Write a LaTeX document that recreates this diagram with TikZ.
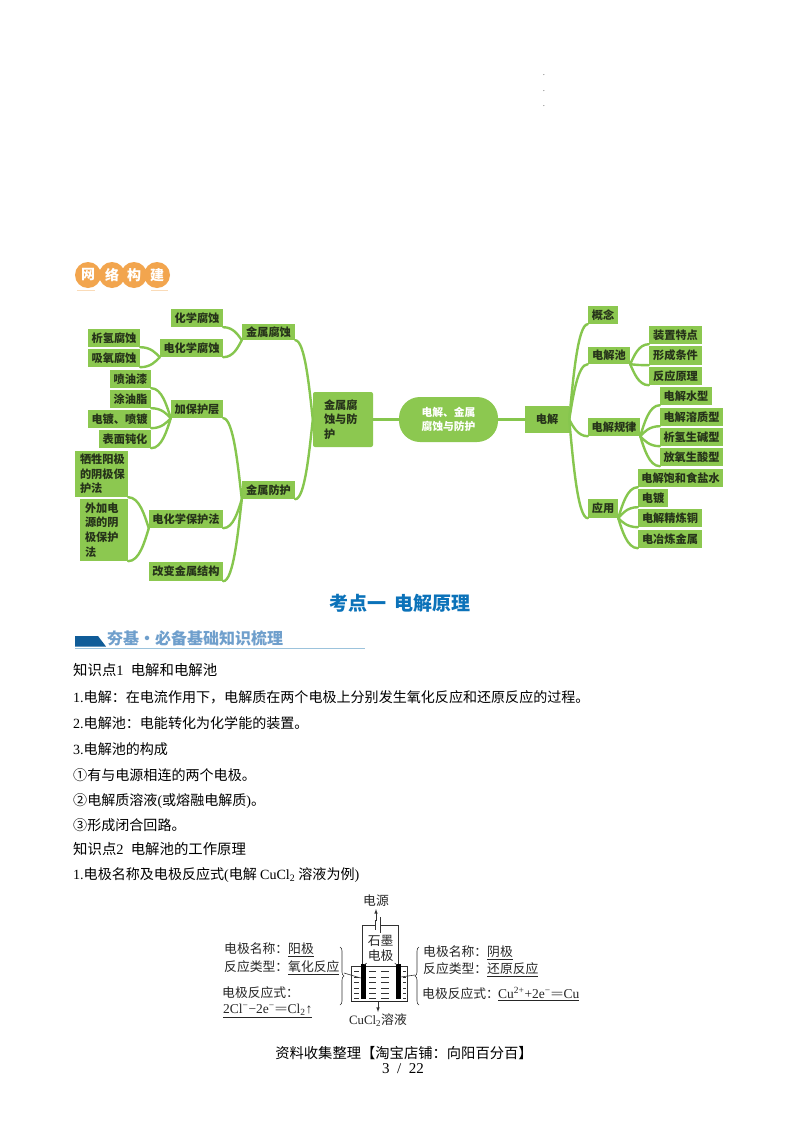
\documentclass[tikz,border=0pt]{standalone}
\usepackage{fontspec}
\setmainfont{Liberation Serif}
\newfontfamily\cjk{Noto Sans CJK SC}
\usetikzlibrary{calc,decorations.pathreplacing,shapes.geometric}
\definecolor{mmgreen}{HTML}{8CC850}
\definecolor{mmline}{HTML}{86C64E}
\definecolor{mmtext}{HTML}{26331A}
\definecolor{titleblue}{HTML}{0B72B9}
\definecolor{headblue}{HTML}{105C98}
\definecolor{headtext}{HTML}{6F9FCC}
\definecolor{headline}{HTML}{9CC3DC}
\definecolor{badge}{HTML}{F2A54E}
\newcommand{\fs}[1]{\fontsize{#1}{#1}\selectfont}
\newcommand{\lat}[1]{{\rmfamily #1}}
\newcommand{\dbl}{\raisebox{0pt}{\scalebox{1.7}[1]{\lat{=}}}}
\tikzset{
  mm/.style={fill=mmgreen,text=mmtext,inner sep=0pt,font=\cjk\bfseries\fontsize{11.2}{14.6}\selectfont},
  conn/.style={draw=mmline,line width=2.4pt,line cap=round},
  body/.style={anchor=west,inner sep=0pt,font=\cjk\fs{14.05},text=black},
  head/.style={anchor=west,inner sep=0pt,font=\cjk\fs{14.4},text=black},
  dia/.style={anchor=west,inner sep=0pt,font=\cjk\fs{12.8},text=black!85},
  wire/.style={draw=black!80,line width=0.6pt},
  electrode/.style={fill=black},
}
\newcommand{\mmn}[6]{\node[mm,minimum width=#4pt-#2pt,minimum height=#5pt-#3pt] (#1) at ({(#2+#4)/2},{(#3+#5)/2}) {#6};}
\newcommand{\mml}[7]{\node[mm,align=left,rounded corners=#7,minimum width=#4pt-#2pt,minimum height=#5pt-#3pt,text width=#4pt-#2pt-10pt] (#1) at ({(#2+#4)/2},{(#3+#5)/2}) {#6};}
% child -> parent: leaves the child along its bottom edge, arrives steeply at the parent
\newcommand{\lnk}[2]{\draw[conn] let \p1=(#1),\p2=(#2) in (\p1) .. controls ({0.45*\x1+0.55*\x2},\y1) and ({0.2*\x1+0.8*\x2},{0.4*\y1+0.6*\y2}) .. (\p2);}
\begin{document}
\begin{tikzpicture}[x=1pt,y=-1pt]
\useasboundingbox[fill=white] (0,0) rectangle (800,1132);

% top dots
\node[inner sep=0pt,font=\fs{7}] (dota) at (544,75) {.};
\node[inner sep=0pt,font=\fs{7}] (dotb) at (544,91) {.};
\node[inner sep=0pt,font=\fs{7}] (dotc) at (544,106) {.};

% badge
\foreach \n/\x/\t in {ba/88/网,bb/112/络,bc/134/构,bd/157/建}{
  \node[circle,fill=badge,minimum size=26pt,inner sep=0pt,text=white,font=\cjk\bfseries\fs{14}] (\n) at (\x,275) {\t};
}
\draw[badge!40,line width=1pt] (77,290.5) -- (95,290.5) (151,290.5) -- (168,290.5);

\mmn{a1}{171}{309}{223}{327}{化学腐蚀}
\mmn{a2}{242}{324}{295}{340}{金属腐蚀}
\mmn{a3}{88}{329}{140}{347}{析氢腐蚀}
\mmn{a4}{88}{349}{140}{367}{吸氧腐蚀}
\mmn{a5}{160}{339}{223}{357}{电化学腐蚀}
\mmn{b1}{110}{370}{151}{388}{喷油漆}
\mmn{b2}{110}{390}{151}{408}{涂油脂}
\mmn{b3}{88}{410}{151}{428}{电镀、喷镀}
\mmn{b4}{99}{430}{151}{448}{表面钝化}
\mmn{b5}{171}{400}{223}{418}{加保护层}
\mml{c1}{75}{451}{128}{497}{牺牲阳极\\的阴极保\\护法}{0pt}
\mml{c2}{80}{499}{128}{561}{外加电\\源的阴\\极保护\\法}{0pt}
\mmn{c3}{149}{510}{223}{528}{电化学保护法}
\mmn{c4}{242}{481}{295}{499}{金属防护}
\mmn{c5}{149}{562}{223}{581}{改变金属结构}
\node[mm,align=left,rounded corners=2pt,minimum width=60pt,minimum height=55pt,text width=38pt] (d1) at (343,419.5) {金属腐\\蚀与防\\护};
\node[mm,rounded corners=21pt,minimum width=99pt,minimum height=45pt,text=white,align=center,font=\cjk\bfseries\fontsize{10.8}{14}\selectfont] (hub) at (448.5,419.5) {电解、金属\\腐蚀与防护};
\mmn{e0}{525}{406}{569}{433}{电解}
\mmn{e1}{588}{306}{618}{324}{概念}
\mmn{e2}{588}{347}{630}{364}{电解池}
\mmn{e3}{649}{326}{702}{344}{装置特点}
\mmn{e4}{649}{346}{702}{365}{形成条件}
\mmn{e5}{649}{367}{702}{385}{反应原理}
\mmn{f0}{588}{418}{640}{436}{电解规律}
\mmn{f1}{660}{387}{712}{405}{电解水型}
\mmn{f2}{660}{408}{723}{426}{电解溶质型}
\mmn{f3}{660}{428}{723}{446}{析氢生碱型}
\mmn{f4}{660}{448}{723}{466}{放氧生酸型}
\mmn{g0}{588}{499}{618}{518}{应用}
\mmn{g1}{638}{469}{723}{487}{电解饱和食盐水}
\mmn{g2}{638}{489}{668}{507}{电镀}
\mmn{g3}{638}{509}{702}{527}{电解精炼铜}
\mmn{g4}{638}{530}{702}{548}{电冶炼金属}

\lnk{a1.south east}{a2.south west}
\lnk{a5.south east}{a2.south west}
\lnk{a3.south east}{a5.south west}
\lnk{a4.south east}{a5.south west}
\lnk{b1.south east}{b5.south west}
\lnk{b2.south east}{b5.south west}
\lnk{b3.south east}{b5.south west}
\lnk{b4.south east}{b5.south west}
\lnk{c1.south east}{c3.south west}
\lnk{c2.south east}{c3.south west}
\lnk{b5.south east}{c4.south west}
\lnk{c3.south east}{c4.south west}
\lnk{c5.south east}{c4.south west}
\lnk{a2.south east}{d1.west}
\lnk{c4.south east}{d1.west}
\draw[conn] (d1.east) -- (hub.west);
\draw[conn] (hub.east) -- (e0.west);
\lnk{e1.south west}{e0.east}
\lnk{e2.south west}{e0.east}
\lnk{f0.south west}{e0.east}
\lnk{g0.south west}{e0.east}
\lnk{e3.south west}{e2.south east}
\lnk{e4.south west}{e2.south east}
\lnk{e5.south west}{e2.south east}
\lnk{f1.south west}{f0.south east}
\lnk{f2.south west}{f0.south east}
\lnk{f3.south west}{f0.south east}
\lnk{f4.south west}{f0.south east}
\lnk{g1.south west}{g0.south east}
\lnk{g2.south west}{g0.south east}
\lnk{g3.south west}{g0.south east}
\lnk{g4.south west}{g0.south east}

% heading
\node[inner sep=0pt,text=titleblue,font=\cjk\bfseries\fs{19}] (title) at (400,603) {考点一\hspace{0.4em}电解原理};
\fill[headblue] (75,636) -- (98,636) -- (106,646.5) -- (75,646.5) -- cycle;
\node[anchor=west,inner sep=0pt,text=headtext,font=\cjk\bfseries\fs{16}] (headt) at (107,638) {夯基·必备基础知识梳理};
\draw[headline,line width=0.8pt] (75,648) -- (365,648);

% body text
\node[head] (t1) at (73,670) {知识点\lat{1}\hspace{0.5em}电解和电解池};
\node[body] (t2) at (73,697) {\lat{1.}电解：在电流作用下，电解质在两个电极上分别发生氧化反应和还原反应的过程。};
\node[body] (t3) at (73,723) {\lat{2.}电解池：电能转化为化学能的装置。};
\node[body] (t4) at (73,749) {\lat{3.}电解池的构成};
\node[body] (t5) at (73,775) {①有与电源相连的两个电极。};
\node[body] (t6) at (73,801) {②电解质溶液\lat{(}或熔融电解质\lat{)}。};
\node[body] (t7) at (73,825) {③形成闭合回路。};
\node[head] (t8) at (73,849) {知识点\lat{2}\hspace{0.5em}电解池的工作原理};
\node[body] (t9) at (73,875) {\lat{1.}电极名称及电极反应式\lat{(}电解 \lat{CuCl\textsubscript{2}} 溶液为例\lat{)}};

% electrolysis figure
\node[dia,anchor=center] (src) at (376,901) {电源};
\coordinate (wl) at (362.7,964);
\coordinate (wr) at (398.3,964);
\coordinate (wtl) at (362.7,925);
\coordinate (wtr) at (398.3,925);
\coordinate (pl) at (375.5,925);
\coordinate (pr) at (380.5,925);
\draw[wire] (wl) -- (wtl) -- (pl) (pr) -- (wtr) -- (wr);
\draw[wire] (375.5,920) -- (375.5,930);
\draw[wire,line width=0.9pt] (380.5,917) -- (380.5,933);
\coordinate (arrs) at (376,921);
\coordinate (arre) at (376,909);
\draw[wire,-latex] (arrs) -- (arre);
% tank
\draw[wire] (351.7,966) -- (351.7,1001) (407.3,966) -- (407.3,1001) (351.7,966) -- (407.3,966);
\draw[black!85,line width=1.8pt] (351,1001.5) -- (408,1001.5);
\foreach \y in {971,977,982,988,993,998}{
  \draw[wire] (354,\y) -- (359,\y) (369,\y) -- (376,\y) (381,\y) -- (389,\y) (403,\y) -- (406,\y);
}
\fill[electrode] (360.7,964) rectangle (365.7,999);
\fill[electrode] (395.7,964) rectangle (400.7,999);
\node[dia,anchor=center,fill=white,inner sep=1pt] (sm1) at (380.7,941) {石墨};
\node[dia,anchor=center,fill=white,inner sep=1pt] (sm2) at (380.7,956) {电极};
\draw[wire] (sm2.south west) -- (364,965);
\draw[wire] (sm2.south east) -- (397,965);
\coordinate (bl1) at (340,947);
\coordinate (bl2) at (340,1005);
\coordinate (br1) at (419,947);
\coordinate (br2) at (419,1005);
\draw[wire,decorate,decoration={brace,amplitude=4pt}] (bl1) -- (bl2);
\draw[wire,decorate,decoration={brace,amplitude=4pt,mirror}] (br1) -- (br2);
\draw[wire] (344,973) -- (360.7,978);
\draw[wire] (400.7,977) -- (415,975);
\coordinate (aout) at (378,1002);
\coordinate (aend) at (378,1012);
\draw[wire,-latex] (aout) -- (aend);
\node[dia,anchor=center] (sol) at (378,1020) {\lat{CuCl\textsubscript{2}}溶液};
\node[dia] (l1) at (224,950) {电极名称：\underline{阳极}};
\node[dia] (l2) at (224,968) {反应类型：\underline{氧化反应}};
\node[dia] (l3) at (222,993) {电极反应式：};
\node[dia,font=\rmfamily\fs{13.5}] (l4) at (223,1011) {\underline{2Cl\textsuperscript{−}−2e\textsuperscript{−}\dbl Cl\textsubscript{2}↑}};
\node[dia] (r1) at (423,953) {电极名称：\underline{阴极}};
\node[dia] (r2) at (423,970) {反应类型：\underline{还原反应}};
\node[dia] (r3) at (422,994) {电极反应式：};
\node[dia,font=\rmfamily\fs{13.5}] (r4) at (498,994) {\underline{Cu\textsuperscript{2+}+2e\textsuperscript{−}\dbl Cu}};

% footer
\node[inner sep=0pt,font=\cjk\fs{14.3}] (foot) at (404,1053) {资料收集整理【淘宝店铺：向阳百分百】};
\node[inner sep=0pt,font=\rmfamily\fs{15}] (page) at (403,1069) {3\hspace{0.5em}/\hspace{0.5em}22};
\end{tikzpicture}
\end{document}
